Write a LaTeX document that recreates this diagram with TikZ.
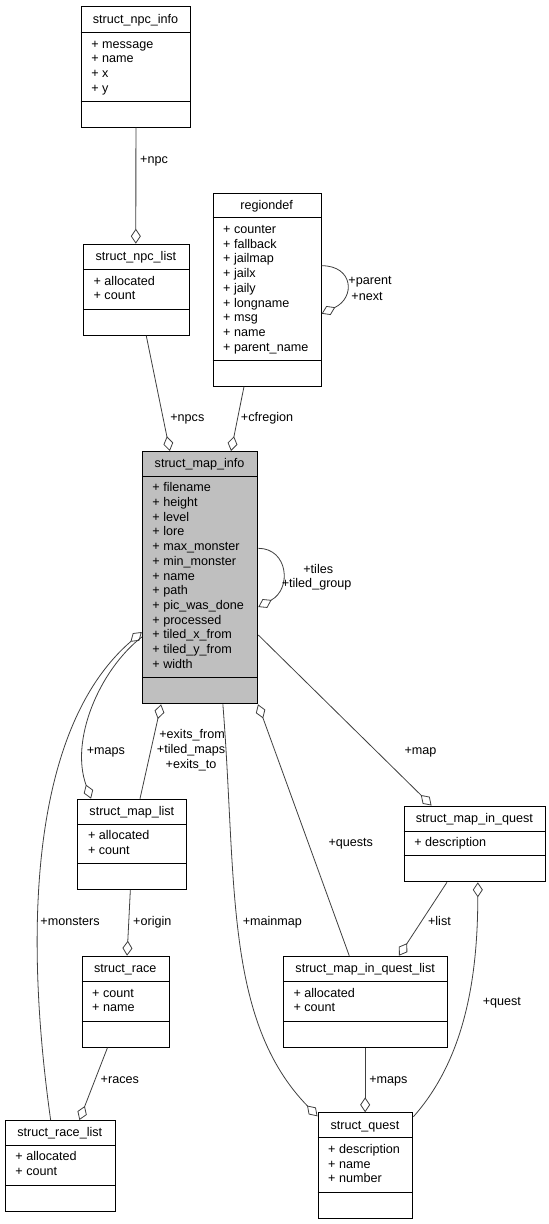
\documentclass[tikz,border=0pt]{standalone}
\usepackage{fontspec}
\setmainfont{Liberation Sans}
\usetikzlibrary{arrows.meta,calc}
\definecolor{edgecol}{HTML}{404040}
\definecolor{mapfill}{HTML}{BFBFBF}
\tikzset{
 txt/.style={inner sep=0pt, font=\fontsize{12.6}{15}\selectfont, text=black},
 cls/.style={draw=black, line width=1pt, rectangle, inner sep=0pt, anchor=north west},
 divline/.style={draw=black, line width=1pt},
 rel/.style={draw=edgecol, line width=0.8pt, -{Diamond[open, length=15pt, width=10pt, line width=0.8pt]}},
}
\newcommand\umlbox[9][white]{%
 \pgfmathsetmacro\bw{(#5-#3)*0.995}\pgfmathsetmacro\bh{#6-#4}%
 \pgfmathsetmacro\tdo{#7-#4}\pgfmathsetmacro\ado{#6-#4-25.5}%
 \node[cls, fill=#1, minimum width=\bw pt, minimum height=\bh pt] (#2) at (#3,#4) {};
 \draw[divline] ($(#2.north west)+(0,\tdo)$) -- ($(#2.north east)+(0,\tdo)$);
 \draw[divline] ($(#2.north west)+(0,\ado)$) -- ($(#2.north east)+(0,\ado)$);
 \node[txt, anchor=base] (#2-t) at ({(#3+#5)/2},{(#4+#7)/2+4}) {#8};
 \foreach \a [count=\i from 0] in {#9} {
   \node[txt, anchor=base west] (#2-a\i) at ({#3+10.5},{#7+11.8+14.7*\i+4}) {+ \a};
 }
}
\begin{document}
\begin{tikzpicture}[x=0.995pt,y=-1pt]
\useasboundingbox[fill=white] (0,0) rectangle (551.76,1224);
% classes
\umlbox{npcinfo}{81.1}{6.3}{191.3}{126.7}{32.3}{struct\_npc\_info}{message,name,x,y}
\umlbox{npclist}{83.4}{243.7}{189.7}{334.7}{269.3}{struct\_npc\_list}{allocated,count}
\umlbox{regiondef}{213.6}{192.7}{322.3}{385.7}{217.7}{regiondef}{counter,fallback,jailmap,jailx,jaily,longname,msg,name,parent\_name}
\umlbox[mapfill]{mapinfo}{142.5}{451}{258.6}{703.3}{476}{struct\_map\_info}{filename,height,level,lore,max\_monster,min\_monster,name,path,pic\_was\_done,processed,tiled\_x\_from,tiled\_y\_from,width}
\umlbox{maplist}{77.8}{798.7}{187.2}{889}{824}{struct\_map\_list}{allocated,count}
\umlbox{mapinquest}{405.7}{805.5}{547.9}{881.3}{831}{struct\_map\_in\_quest}{description}
\umlbox{race}{82}{955.7}{169.6}{1046.7}{981.3}{struct\_race}{count,name}
\umlbox{racelist}{4.8}{1120}{115.4}{1210.5}{1145}{struct\_race\_list}{allocated,count}
\umlbox{mqlist}{284.3}{955.7}{449.7}{1046.7}{981.3}{struct\_map\_in\_quest\_list}{allocated,count}
\umlbox{quest}{319.1}{1112.3}{414.5}{1217.7}{1137.7}{struct\_quest}{description,name,number}
% relations
\draw[rel] ($(npcinfo.south west)+(55.5,0)$) -- ($(npclist.north west)+(53.1,0)$);
\draw[rel] ($(npclist.south west)+(63.6,0)$) -- ($(mapinfo.north west)+(28.2,0)$);
\draw[rel] ($(regiondef.south west)+(31.6,0)$) -- ($(mapinfo.north west)+(89.7,0)$);
\draw[rel] ($(regiondef.north east)+(0,73)$) .. controls +(32,0) and +(34,-16) .. ($(regiondef.north east)+(0,121)$);
\draw[rel] ($(mapinfo.north east)+(0,97.3)$) .. controls +(30,0) and +(34,-18) .. ($(mapinfo.north east)+(0,156)$);
\draw[rel] ($(racelist.north west)+(46.1,0)$) .. controls +(-31,-220) and +(-102.5,88) .. ($(mapinfo.north west)+(0,181)$);
\draw[rel] ($(mapinfo.north west)+(0,186)$) .. controls +(-42.5,33) and +(-21.5,-58.7) .. ($(maplist.north west)+(13.7,0)$);
\draw[rel] ($(maplist.north west)+(62.9,0)$) -- ($(mapinfo.south west)+(19.4,0)$);
\draw[rel] ($(mapinfo.south west)+(81.5,0)$) .. controls +(14,176.7) and +(-94,-96.3) .. ($(quest.north west)+(0,4)$);
\draw[rel] ($(mqlist.north west)+(66.7,0)$) -- ($(mapinfo.south east)+(-0.3,0)$);
\draw[rel] ($(mapinfo.north east)+(0,184)$) -- ($(mapinquest.north west)+(28,0)$);
\draw[rel] ($(mapinquest.south west)+(43.5,0)$) -- ($(mqlist.north west)+(116.7,0)$);
\draw[rel] ($(quest.north east)+(0,4.4)$) .. controls +(50.5,-56.7) and +(0,98.3) .. ($(mapinquest.south west)+(74.5,0)$);
\draw[rel] ($(maplist.south west)+(53.2,0)$) -- ($(race.north west)+(45.7,0)$);
\draw[rel] ($(race.south west)+(26,0)$) -- ($(racelist.north west)+(75,0)$);
\draw[rel] ($(mqlist.south west)+(82.7,0)$) -- ($(quest.north west)+(47.9,0)$);
% labels
\node[txt, anchor=base west] (l-npc) at (140.7,163) {+npc};
\node[txt, anchor=base west] (l-npcs) at (171,421.7) {+npcs};
\node[txt, anchor=base west] (l-cfregion) at (242,421.7) {+cfregion};
\node[txt, anchor=base west] (l-parent) at (350,284.7) {+parent};
\node[txt, anchor=base west] (l-next) at (353,300) {+next};
\node[txt, anchor=base west] (l-tiles) at (304.7,573) {+tiles};
\node[txt, anchor=base west] (l-tiledgroup) at (283,587.5) {+tiled\_group};
\node[txt, anchor=base west] (l-maps) at (87,754) {+maps};
\node[txt, anchor=base] (l-exitsfrom) at (193,738.3) {+exits\_from};
\node[txt, anchor=base] (l-tiledmaps) at (192,753.3) {+tiled\_maps};
\node[txt, anchor=base] (l-exitsto) at (192,768.7) {+exits\_to};
\node[txt, anchor=base west] (l-map) at (406.4,754) {+map};
\node[txt, anchor=base west] (l-quests) at (330,846.7) {+quests};
\node[txt, anchor=base west] (l-monsters) at (40.5,925.7) {+monsters};
\node[txt, anchor=base west] (l-origin) at (133.7,925.7) {+origin};
\node[txt, anchor=base west] (l-mainmap) at (243.8,925.7) {+mainmap};
\node[txt, anchor=base west] (l-list) at (430,925.7) {+list};
\node[txt, anchor=base west] (l-quest) at (485,1005) {+quest};
\node[txt, anchor=base west] (l-races) at (101,1083) {+races};
\node[txt, anchor=base west] (l-maps2) at (371,1083) {+maps};
\end{tikzpicture}
\end{document}
